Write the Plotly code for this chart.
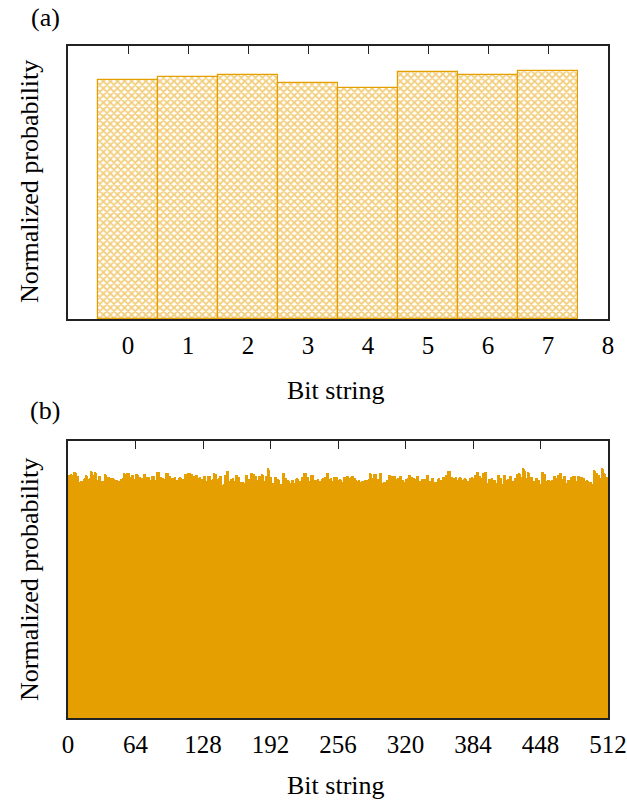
import plotly.graph_objects as go

# ---------------- data ----------------
bits_a = [0, 1, 2, 3, 4, 5, 6, 7]
probs_a = [0.875, 0.886, 0.892, 0.864, 0.848, 0.903, 0.894, 0.907]

probs_b_part1 = [
    .877, .877, .880, .877, .875, .887, .887, .885, .873, .874, .852, .853, .855, .856, .857, .864,
    .866, .877, .875, .864, .866, .891, .889, .877, .876, .887, .885, .858, .860, .873, .872, .856,
    .857, .855, .856, .880, .879, .870, .869, .864, .865, .868, .867, .864, .858, .859, .860, .856,
    .855, .857, .864, .863, .865, .883, .882, .885, .884, .886, .870, .871, .877, .876, .861, .862,
    .880, .881, .879, .870, .869, .864, .865, .866, .880, .881, .870, .871, .869, .858, .859, .874,
    .875, .873, .861, .860, .889, .888, .887, .870, .871, .864, .865, .863, .883, .882, .884, .873,
    .874, .864, .866, .868, .867, .869, .858, .859, .860, .868, .869, .867, .861, .862, .880, .881,
    .879, .885, .886, .884, .880, .881, .874, .875, .873, .877, .876, .868, .867, .869, .864, .863,
]
probs_b_part2 = [
    .873, .872, .856, .857, .873, .874, .872, .858, .860, .862, .883, .882, .880, .864, .863, .865,
    .873, .872, .842, .845, .877, .876, .891, .890, .856, .857, .864, .863, .865, .856, .855, .877,
    .878, .870, .869, .852, .853, .851, .846, .847, .877, .876, .861, .862, .860, .885, .886, .880,
    .881, .873, .872, .858, .857, .873, .874, .880, .879, .856, .857, .873, .872, .904, .895, .870,
    .871, .849, .850, .848, .870, .869, .861, .862, .860, .844, .846, .885, .884, .868, .867, .858,
    .859, .857, .846, .847, .861, .860, .849, .850, .864, .865, .863, .856, .857, .870, .871, .885,
    .884, .883, .870, .869, .856, .857, .877, .876, .878, .858, .859, .861, .860, .862, .856, .855,
    .864, .865, .863, .870, .871, .885, .884, .864, .863, .865, .856, .857, .870, .869, .871, .870,
]
probs_b_part3 = [
    .861, .862, .860, .852, .853, .870, .871, .869, .873, .874, .868, .867, .869, .873, .872, .864,
    .865, .858, .857, .859, .852, .853, .856, .855, .857, .858, .859, .861, .860, .862, .883, .882,
    .864, .865, .880, .879, .881, .864, .863, .885, .884, .846, .847, .852, .853, .851, .858, .857,
    .877, .876, .873, .874, .872, .873, .872, .864, .865, .863, .873, .874, .861, .860, .852, .853,
    .864, .863, .865, .877, .876, .868, .869, .864, .865, .863, .873, .872, .856, .857, .855, .864,
    .863, .861, .862, .860, .877, .878, .856, .855, .857, .868, .867, .852, .853, .851, .864, .865,
    .858, .859, .857, .870, .869, .871, .877, .876, .891, .889, .890, .870, .871, .868, .867, .869,
    .861, .860, .868, .869, .867, .858, .857, .864, .865, .863, .856, .857, .855,
]
probs_b_part4 = [
    .868, .867, .869, .868, .877, .876, .889, .887, .873, .872, .868, .867, .885, .884, .887, .888,
    .849, .850, .864, .863, .864, .865, .861, .860, .846, .847, .877, .876, .868, .867, .844, .845,
    .877, .878, .861, .860, .864, .863, .873, .872, .856, .857, .868, .867, .880, .879, .883, .882,
    .868, .869, .904, .898, .890, .864, .865, .887, .886, .870, .871, .856, .857, .855, .868, .867,
    .861, .860, .844, .845, .888, .887, .880, .881, .856, .857, .858, .859, .857, .861, .860, .873,
    .874, .864, .865, .877, .876, .885, .884, .864, .863, .873, .872, .846, .847, .858, .859, .870,
    .871, .873, .872, .874, .856, .857, .873, .874, .870, .869, .871, .864, .865, .856, .857, .858,
    .857, .852, .853, .844, .846, .896, .893, .885, .884, .877, .876, .864, .865, .904, .900, .883,
    .882, .870, .871,
]
probs_b = probs_b_part1 + probs_b_part2 + probs_b_part3 + probs_b_part4
bits_b = [i + 0.5 for i in range(len(probs_b))]

ticks_a = [0, 1, 2, 3, 4, 5, 6, 7, 8]
ticks_b = [0, 64, 128, 192, 256, 320, 384, 448, 512]

# ---------------- figure ----------------
ORANGE = "#E69F00"
FONT = "Liberation Serif"
W, H = 627, 803

def px(x):
    return x / W

def py(y):
    return 1 - y / H

fig = go.Figure()
fig.add_trace(go.Bar(
    x=bits_a, y=probs_a, width=1,
    marker=dict(color="white", line=dict(color=ORANGE, width=1.2),
                pattern=dict(shape="x", fgcolor=ORANGE, bgcolor="white", size=5, solidity=0.6)),
    xaxis="x", yaxis="y", showlegend=False,
))
fig.add_trace(go.Bar(
    x=bits_b, y=probs_b, width=1,
    marker=dict(color=ORANGE, line=dict(width=0)),
    xaxis="x2", yaxis="y2", showlegend=False,
))

xdom = [px(68), px(608)]
axis_common = dict(showline=True, linecolor="#222", linewidth=1.5, mirror="ticks",
                   ticks="inside", ticklen=8, tickcolor="#222", tickwidth=1,
                   showgrid=False, zeroline=False, layer="below traces",
                   tickfont=dict(family=FONT, size=25, color="black"),
                   ticklabelstandoff=3, automargin=False)

fig.update_layout(
    width=W, height=H, margin=dict(l=0, r=0, t=0, b=0),
    paper_bgcolor="white", plot_bgcolor="white", bargap=0,
    xaxis=dict(domain=xdom, range=[-1, 8], tickvals=ticks_a, anchor="y", **axis_common),
    yaxis=dict(domain=[py(319), py(46)], range=[0, 1], showticklabels=False,
               showline=True, linecolor="#222", linewidth=1.5, mirror=True, ticks="",
               showgrid=False, zeroline=False, anchor="x"),
    xaxis2=dict(domain=xdom, range=[0, 512], tickvals=ticks_b, anchor="y2", **axis_common),
    yaxis2=dict(domain=[py(718), py(441)], range=[0, 1], showticklabels=False,
                showline=True, linecolor="#222", linewidth=1.5, mirror=True, ticks="",
                showgrid=False, zeroline=False, anchor="x2"),
)

ann_font = dict(family=FONT, size=26, color="black")
anns = [
    dict(text="(a)", x=px(45), y=py(18)),
    dict(text="(b)", x=px(45), y=py(410)),
    dict(text="Bit string", x=px(336), y=py(391)),
    dict(text="Bit string", x=px(336), y=py(785)),
    dict(text="Normalized probability", x=px(29), y=py(182), textangle=-90),
    dict(text="Normalized probability", x=px(29), y=py(580), textangle=-90),
]
for a in anns:
    fig.add_annotation(xref="paper", yref="paper", showarrow=False,
                       xanchor="center", yanchor="middle", font=ann_font, **a)

fig.write_html("out.html")
